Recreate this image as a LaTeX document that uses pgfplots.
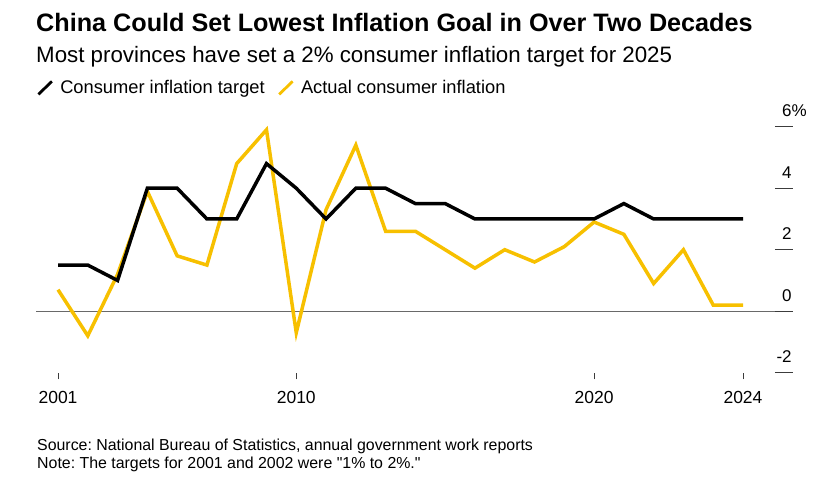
\documentclass[border=0pt]{standalone}
\usepackage{fontspec}
\setmainfont{Liberation Sans}[Ligatures=TeXOff]
\usepackage{pgfplots}
\pgfplotsset{compat=1.18}
\frenchspacing

\definecolor{bbyellow}{RGB}{247,192,0}
\definecolor{zerogray}{RGB}{105,105,105}
\definecolor{tickgray}{RGB}{60,60,60}

\begin{document}
\begin{tikzpicture}
\useasboundingbox (0,0) rectangle (827bp,-485bp);

% titles
\node[anchor=base west, inner sep=0pt, font=\fontsize{25.2bp}{30bp}\selectfont\bfseries]
  at (36bp,-31.5bp) {China Could Set Lowest Inflation Goal in Over Two Decades};
\node[anchor=base west, inner sep=0pt, font=\fontsize{22.3bp}{26bp}\selectfont]
  at (36bp,-62.5bp) {Most provinces have set a 2\% consumer inflation target for 2025};

\begin{axis}[
  at={(36bp,-372.7bp)}, anchor=south west,
  scale only axis, width=757bp, height=246bp,
  xmin=2000.261, xmax=2025.679, ymin=-2, ymax=6,
  axis line style={draw=none},
  clip=false,
  xtick={2001,2009,2019,2024},
  xticklabels={2001,2010,2020,2024},
  xtick pos=bottom, ytick pos=right,
  tick align=outside, major tick length=6.6bp,
  xtick style={draw=tickgray, line width=1bp},
  ytick style={draw=none},
  ytick={-2,0,2,4,6},
  yticklabels={\llap{-}2,0,2,4,6\%},
  yticklabel pos=right,
  xticklabel style={font=\fontsize{17.5bp}{20bp}\selectfont, anchor=base, inner sep=0pt, yshift=-24bp},
  yticklabel style={font=\fontsize{17bp}{20bp}\selectfont, anchor=base west, inner sep=0pt, xshift=-17.6bp, yshift=10bp},
  legend image code/.code={\draw[#1, line width=2.8bp, line cap=butt] (0bp,-6.5bp) -- (13.5bp,6.5bp);},
  legend style={draw=none, fill=none, inner sep=0pt, outer sep=0pt,
    at={(0.0013,1.19)}, anchor=north west,
    font=\fontsize{18.3bp}{22bp}\selectfont,
    nodes={inner sep=0pt},
    /tikz/every odd column/.append style={column sep=7bp},
    /tikz/every even column/.append style={column sep=13bp}},
  legend columns=2,
  legend entries={Consumer inflation target, Actual consumer inflation},
]
\addlegendimage{black}
\addlegendimage{bbyellow}

% zero line and right-hand tick dashes
\draw[zerogray, line width=1.3bp] (axis cs:2000.261,0) -- (axis cs:2025.679,0);
\draw[tickgray, line width=1bp] (axis cs:2025.074,6) -- (axis cs:2025.679,6);
\draw[tickgray, line width=1bp] (axis cs:2025.074,4) -- (axis cs:2025.679,4);
\draw[tickgray, line width=1bp] (axis cs:2025.074,2) -- (axis cs:2025.679,2);
\draw[tickgray, line width=1bp] (axis cs:2025.074,0) -- (axis cs:2025.679,0);
\draw[tickgray, line width=1bp] (axis cs:2025.074,-2) -- (axis cs:2025.679,-2);

% actual consumer inflation
\addplot[bbyellow, line width=3.5bp, forget plot] coordinates {
  (2001,0.7) (2002,-0.8) (2003,1.2) (2004,3.9) (2005,1.8) (2006,1.5)
  (2007,4.8) (2008,5.9) (2009,-0.7) (2010,3.3) (2011,5.4) (2012,2.6)
  (2013,2.6) (2014,2.0) (2015,1.4) (2016,2.0) (2017,1.6) (2018,2.1)
  (2019,2.9) (2020,2.5) (2021,0.9) (2022,2.0) (2023,0.2) (2024,0.2)};

% consumer inflation target
\addplot[black, line width=3.5bp, forget plot] coordinates {
  (2001,1.5) (2002,1.5) (2003,1.0) (2004,4.0) (2005,4.0) (2006,3.0)
  (2007,3.0) (2008,4.8) (2009,4.0) (2010,3.0) (2011,4.0) (2012,4.0)
  (2013,3.5) (2014,3.5) (2015,3.0) (2016,3.0) (2017,3.0) (2018,3.0)
  (2019,3.0) (2020,3.5) (2021,3.0) (2022,3.0) (2023,3.0) (2024,3.0)};
\end{axis}

% footnotes
\node[anchor=base west, inner sep=0pt, font=\fontsize{15.9bp}{18bp}\selectfont]
  at (37bp,-450bp) {Source: National Bureau of Statistics, annual government work reports};
\node[anchor=base west, inner sep=0pt, font=\fontsize{15.9bp}{18bp}\selectfont]
  at (37bp,-468bp) {Note: The targets for 2001 and 2002 were "1\% to 2\%."};
\end{tikzpicture}
\end{document}
